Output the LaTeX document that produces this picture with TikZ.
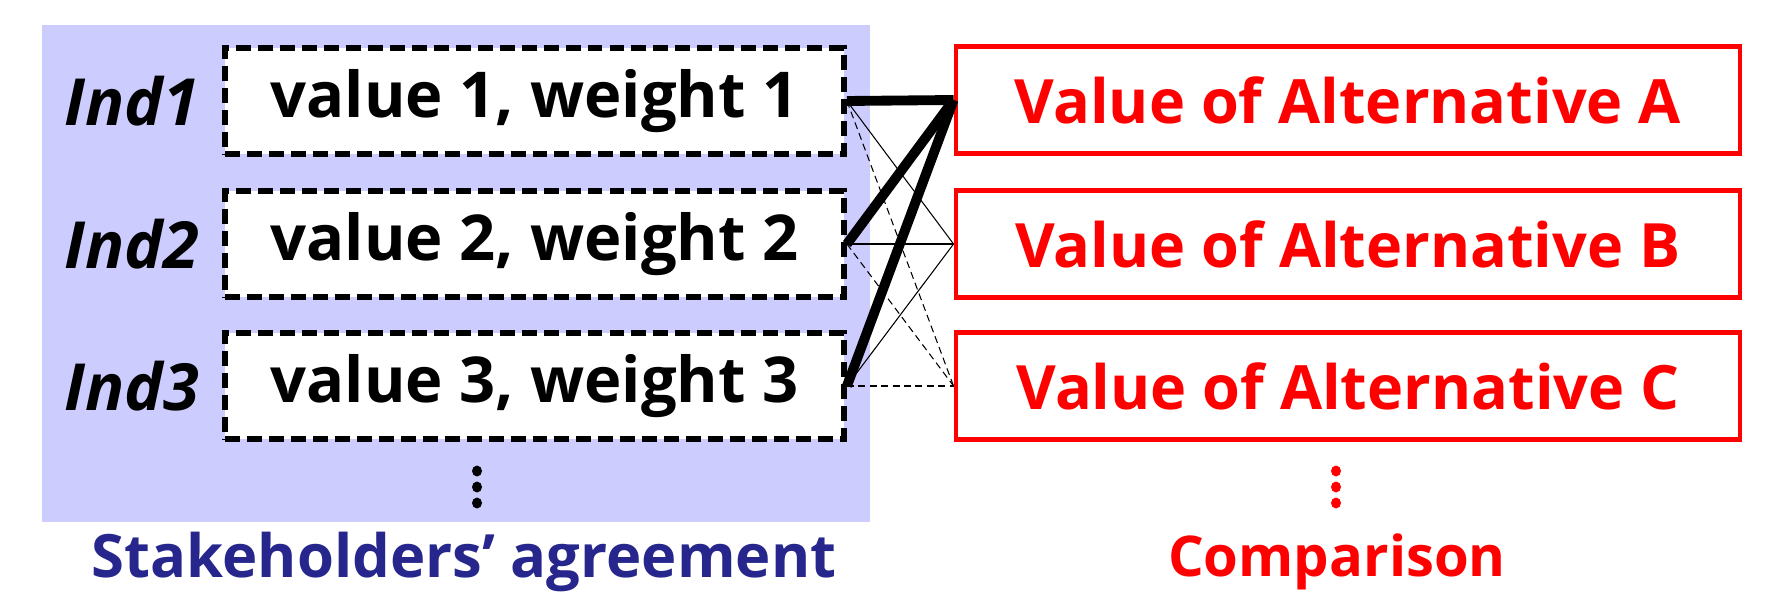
\documentclass[tikz,border=0pt]{standalone}
\usepackage{fontspec}
\setmainfont{Open Sans}
\usetikzlibrary{positioning}
\definecolor{agreeblue}{RGB}{204,204,255}
\definecolor{agreetext}{RGB}{38,38,140}
\definecolor{altred}{RGB}{255,0,0}
\newcommand{\valtext}{\fontsize{36}{40}\selectfont\bfseries}
\newcommand{\alttext}{\fontsize{34.8}{40}\selectfont\bfseries}
\newcommand{\captext}{\fontsize{34}{40}\selectfont\bfseries}
\tikzset{
  valbox/.style={draw,line width=3.4pt,dash pattern=on 8.5pt off 4pt,fill=white,
    minimum width=12.38cm,minimum height=2.12cm,font=\valtext},
  altbox/.style={draw=altred,line width=2.3pt,fill=white,text=altred,
    minimum width=15.7cm,minimum height=2.14cm,font=\alttext},
  indlabel/.style={inner sep=0pt,font=\fontsize{37}{40}\selectfont\bfseries\itshape},
  strong/.style={line width=5.6pt},
  weak/.style={line width=0.6pt},
  weakdash/.style={line width=0.6pt,dash pattern=on 4pt off 2.5pt},
}
\begin{document}
\begin{tikzpicture}[x=0.02cm,y=-0.02cm]
    \useasboundingbox (0,0) rectangle (1788,604);
    \fill[agreeblue] (42,25) rectangle (870,522);
    % stakeholders
    \node[valbox] (v1) at (534.5,101) {value 1, weight 1};
    \node[valbox] (v2) at (534.5,244) {value 2, weight 2};
    \node[valbox] (v3) at (534.5,386) {value 3, weight 3};
    \node[indlabel,left=0.45cm of v1] (ind1) {Ind1};
    \node[indlabel,left=0.45cm of v2] (ind2) {Ind2};
    \node[indlabel,left=0.45cm of v3] (ind3) {Ind3};
    \node[font=\captext,text=agreetext] (agree) at (464,562) {Stakeholders’ agreement};
    % alternatives
    \node[altbox] (altA) at (1348,100) {Value of Alternative A};
    \node[altbox] (altB) at (1348,244) {Value of Alternative B};
    \node[altbox] (altC) at (1348,386) {Value of Alternative C};
    \node[font=\fontsize{32}{40}\selectfont\bfseries,text=altred] (comp) at (1337,562) {Comparison};
    % more to come
    \foreach \y in {471,487,503}{
      \fill (477,\y) ellipse (5 and 5.5);
      \fill[altred] (1336,\y) ellipse (5 and 5.5);
    }
    % weighting
    \foreach \i in {1,2,3}{
      \draw[strong] (v\i.east) -- (altA.west);
      \draw[weak] (v\i.east) -- (altB.west);
      \draw[weakdash] (v\i.east) -- (altC.west);
    }
\end{tikzpicture}
\end{document}
